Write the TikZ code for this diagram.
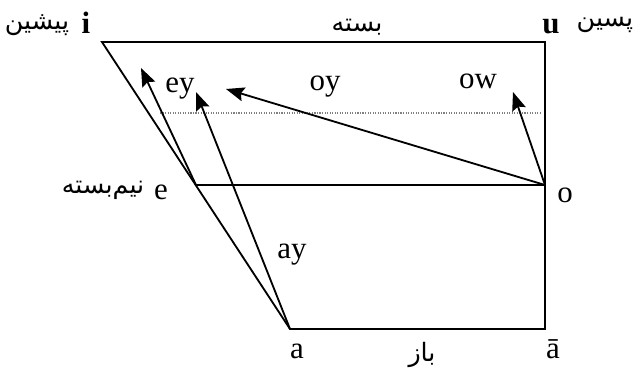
\documentclass[tikz,border=0pt]{standalone}
\usepackage{fontspec}
\setmainfont{Liberation Serif}
\newfontfamily\farsifont[Script=Arabic]{DejaVu Sans}
\TeXXeTstate=1
\usetikzlibrary{arrows.meta}

\begin{document}
\begin{tikzpicture}[
  x=0.025cm, y=-0.025cm,
  edge/.style={line width=1.3pt},
  glide/.style={line width=1.3pt,-{Stealth[length=13pt,width=10pt,inset=2pt]}},
  vlabel/.style={font=\fontsize{22}{24}\selectfont,inner sep=0pt,anchor=base},
  falabel/.style={font=\farsifont\fontsize{18}{20}\selectfont,inner sep=0pt},
]
  \useasboundingbox (0,0) rectangle (637,371);

  % corners of the vowel trapezium
  \coordinate (i) at (102,42);
  \coordinate (u) at (545,42);
  \coordinate (e) at (196,185);
  \coordinate (o) at (545,185);
  \coordinate (a) at (290,329);
  \coordinate (abar) at (545,329);

  % arrow ends and dotted line ends
  \coordinate (eyend) at (141,68);
  \coordinate (ayend) at (196,92);
  \coordinate (oyend) at (226,89);
  \coordinate (owend) at (513,92);
  \coordinate (dotl) at (160,113);
  \coordinate (dotr) at (542,113);

  % frame
  \draw[edge] (i) -- (u) -- (abar) -- (a) -- cycle;
  \draw[edge] (e) -- (o);
  \draw[gray,densely dotted,line width=0.8pt] (dotl) -- (dotr);

  % diphthongs
  \draw[glide] (e) -- (eyend);
  \draw[glide] (a) -- (ayend);
  \draw[glide] (o) -- (oyend);
  \draw[glide] (o) -- (owend);

  % vowel labels
  \node[vlabel,font=\fontsize{22}{24}\selectfont\bfseries] (ilab) at (86,33) {i};
  \node[vlabel,font=\fontsize{22}{24}\selectfont\bfseries] (ulab) at (551,33) {u};
  \node[vlabel] (elab) at (161,199) {e};
  \node[vlabel] (olab) at (565,202) {o};
  \node[vlabel] (alab) at (297,358) {a};
  \node[vlabel] (abarlab) at (553,358) {ā};

  \node[vlabel] (ey) at (180,92) {ey};
  \node[vlabel] (oy) at (325,90) {oy};
  \node[vlabel] (ow) at (478,88) {ow};
  \node[vlabel] (ay) at (292,258) {ay};

  % persian labels
  \node[falabel] (front) at (37,25) {\beginR پیشین\endR};
  \node[falabel] (back) at (605,25) {\beginR پسین\endR};
  \node[falabel] (closed) at (357,27) {\beginR بسته\endR};
  \node[falabel] (halfclosed) at (103,190) {\beginR نیم‌بسته\endR};
  \node[falabel] (open) at (422,355) {\beginR باز\endR};
\end{tikzpicture}
\end{document}
